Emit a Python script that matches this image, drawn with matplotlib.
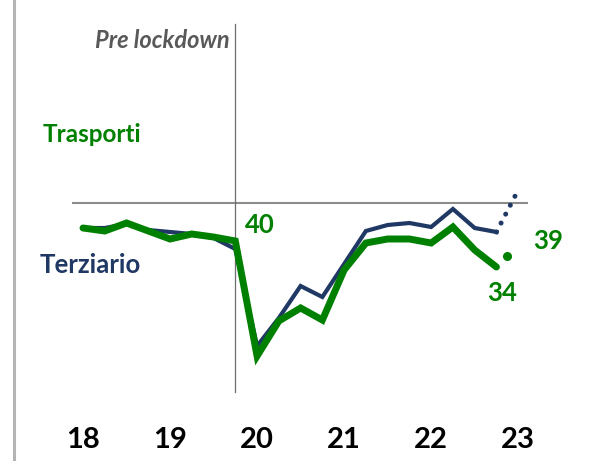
import matplotlib
matplotlib.use("Agg")
import matplotlib.pyplot as plt
from matplotlib.lines import Line2D
import numpy as np

# quarterly values, Q1 2018 .. Q4 2022 (deviation from pre-lockdown level)
terziario = [-5.0, -5.0, -4.2, -5.4, -5.8, -6.2, -7.0, -9.2,
             -28.6, -23.0, -16.6, -18.8, -12.2, -5.6, -4.4, -4.0,
             -4.8, -1.2, -5.0, -5.8]
trasporti = [-5.0, -5.6, -4.0, -5.6, -7.2, -6.2, -6.8, -7.6,
             -30.6, -23.6, -21.0, -23.4, -13.4, -8.0, -7.2, -7.2,
             -8.0, -4.8, -9.4, -12.8]
terziario_proj = [-5.8, 2.6]       # dotted projection Q4 22 -> Q1 23
trasporti_proj = -10.6             # single projected point
years = ["18", "19", "20", "21", "22", "23"]

NAVY = "#203864"
GREEN = "#008000"

plt.rcParams['font.family'] = ['Lato', 'DejaVu Sans']

fig = plt.figure(figsize=(5.89, 4.61), dpi=100)
ax = fig.add_axes([0, 0, 1, 1])
ax.set_xlim(-83 / 21.76, (589 - 83) / 21.76)
ax.set_ylim((203 - 461) / 5, 203 / 5)
ax.axis('off')

x = np.arange(len(trasporti))

# reference lines
ax.plot([-0.45, 20.4], [0, 0], color="#8c8c8c", lw=1.5, zorder=1)
ax.plot([7, 7], [35.8, -37.8], color="#6e6e6e", lw=0.9, zorder=1)
fig.add_artist(Line2D([14 / 589, 14 / 589], [0, 1], color="#b4b4b4", lw=2.2))

ax.plot(x, terziario, color=NAVY, lw=3, solid_joinstyle='miter', zorder=2)
ax.plot([x[-1], x[-1] + 1], terziario_proj, color=NAVY, lw=3.6,
        linestyle=(0, (0.01, 2)), dash_capstyle='round', zorder=2)
ax.plot(x, trasporti, color=GREEN, lw=5, solid_joinstyle='miter',
        solid_capstyle='round', zorder=3)
ax.plot([x[-1] + 0.5], [trasporti_proj], 'o', color=GREEN, ms=5.5, zorder=3)

# labels
ax.text(6.76, 32.4, "Pre lockdown", ha='right', va='center', fontsize=17,
        style='italic', fontweight='bold', color="#595959")
ax.text(-1.86, 13.6, "Trasporti", ha='left', va='center', fontsize=17.5,
        fontweight='bold', color=GREEN)
ax.text(-1.98, -12.4, "Terziario", ha='left', va='center', fontsize=18.5,
        fontweight='bold', color=NAVY)
ax.text(7.44, -4.4, "40", ha='left', va='center', fontsize=18.5,
        fontweight='bold', color=GREEN)
ax.text(20.68, -7.6, "39", ha='left', va='center', fontsize=18.5,
        fontweight='bold', color=GREEN)
ax.text(18.57, -18.0, "34", ha='left', va='center', fontsize=18.5,
        fontweight='bold', color=GREEN)

for i, y in enumerate(years):
    ax.text(i * 4, -47.4, y, ha='center', va='center', fontsize=21,
            fontweight='bold', color="black")

fig.savefig("out.png", dpi=100)
